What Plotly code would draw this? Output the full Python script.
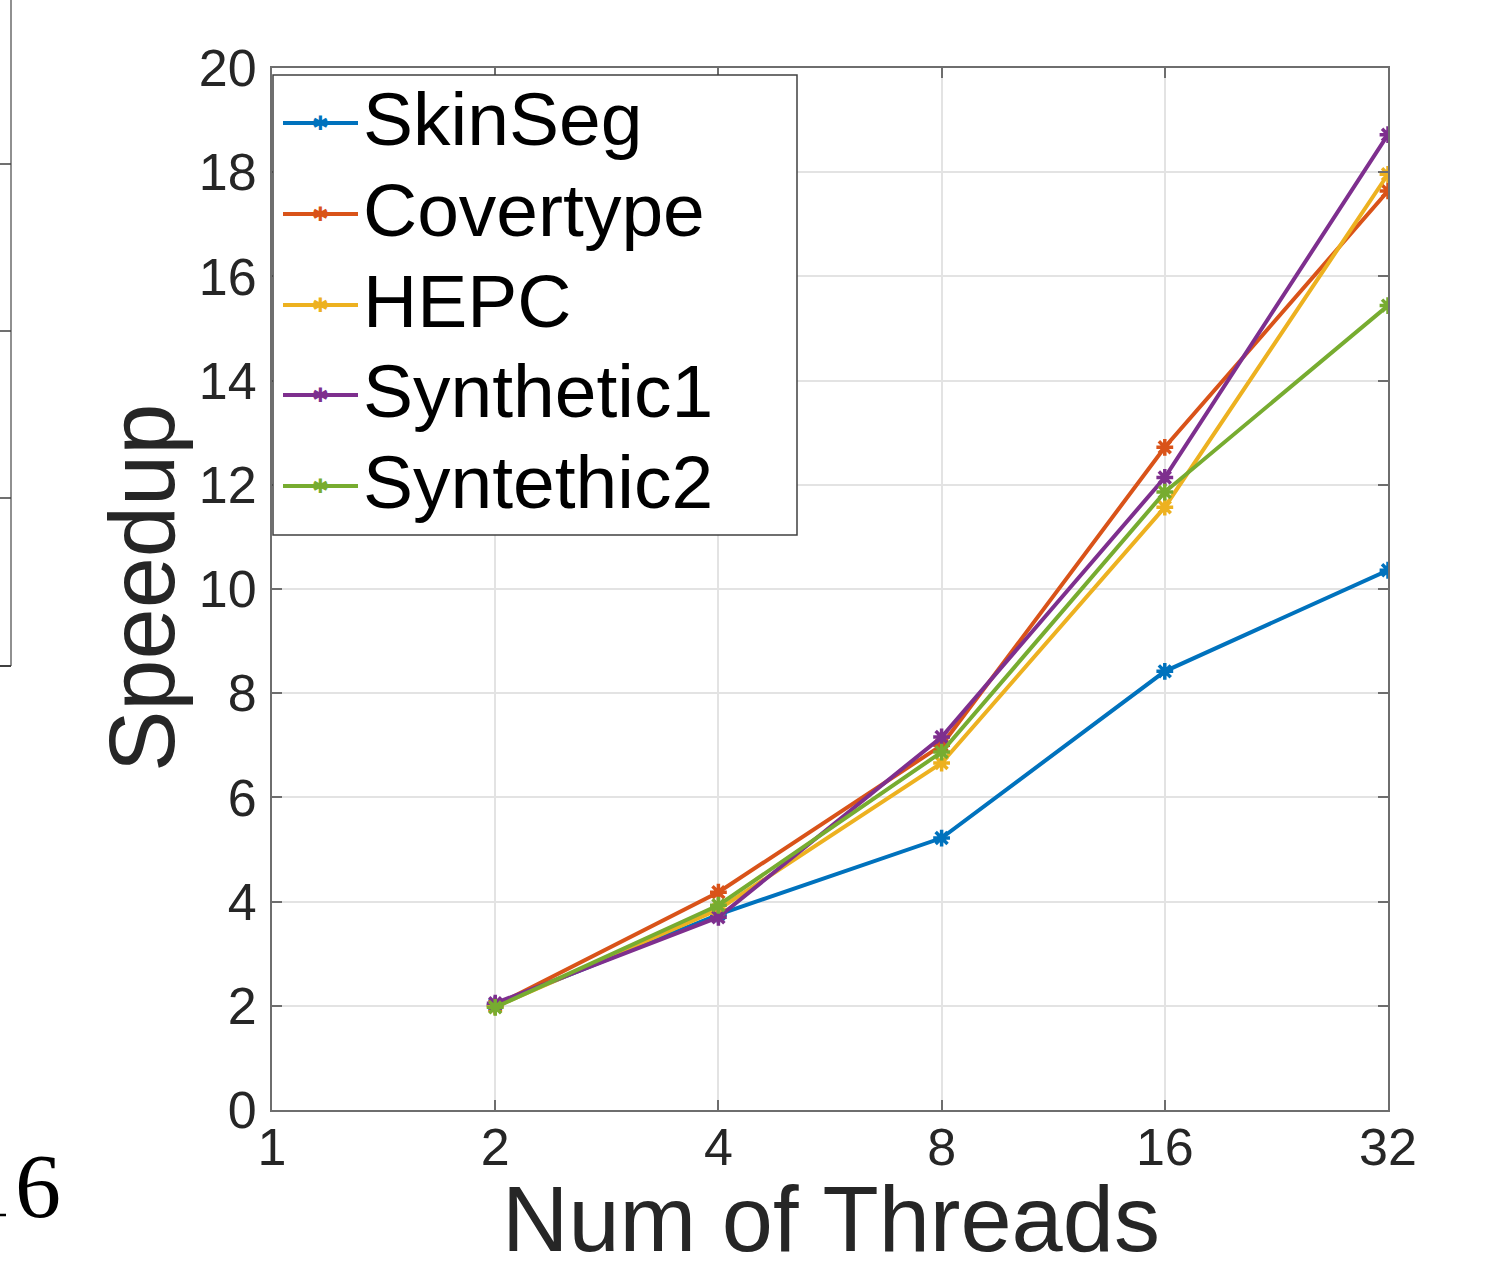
import plotly.graph_objects as go

threads = [2, 4, 8, 16, 32]
series_names = ["SkinSeg", "Covertype", "HEPC", "Synthetic1", "Syntethic2"]
skinseg = [2.02, 3.75, 5.22, 8.42, 10.36]
covertype = [2.0, 4.18, 7.0, 12.72, 17.64]
hepc = [1.98, 3.85, 6.66, 11.57, 17.96]
synthetic1 = [2.05, 3.70, 7.16, 12.14, 18.72]
syntethic2 = [1.97, 3.93, 6.87, 11.86, 15.44]
colors = ["#0072BD", "#D95319", "#EDB120", "#7E2F8E", "#77AC30"]
x_ticks = [1, 2, 4, 8, 16, 32]
y_ticks = [0, 2, 4, 6, 8, 10, 12, 14, 16, 18, 20]

W, H = 1493, 1264
L, R, T, B = 272, 105, 68, 154
PW, PH = W - L - R, H - T - B
FONT = "Liberation Sans, Arial, Helvetica, sans-serif"


def px(xp):
    return (xp - L) / PW


def py(yp):
    return (H - B - yp) / PH


fig = go.Figure()
for name, vals, c in zip(series_names, [skinseg, covertype, hepc, synthetic1, syntethic2], colors):
    fig.add_trace(go.Scatter(
        x=threads, y=vals, name=name, mode="lines+markers",
        line=dict(color=c, width=4),
        marker=dict(symbol="asterisk-open", size=14, color=c, line=dict(color=c, width=3.5)),
        showlegend=False,
    ))

axis_common = dict(
    showline=True, linecolor="#6e6e6e", linewidth=2, mirror="ticks",
    ticks="inside", ticklen=10, tickwidth=1.5, tickcolor="#6e6e6e",
    showgrid=True, gridcolor="#e3e3e3", gridwidth=1.5, zeroline=False,
    tickfont=dict(family=FONT, size=52, color="#262626"),
)

fig.update_xaxes(
    type="log", range=[0, 1.50515], tickvals=x_ticks, ticktext=[str(v) for v in x_ticks],
    ticklabelstandoff=-9,
    **axis_common,
)
fig.update_yaxes(
    range=[0, 20], tickvals=y_ticks,
    ticklabelstandoff=3,
    **axis_common,
)

# axis titles
fig.add_annotation(text="Num of Threads", xref="paper", yref="paper",
                   x=px(831), y=py(1219), xanchor="center", yanchor="middle", showarrow=False,
                   font=dict(family=FONT, size=92, color="#262626"))
fig.add_annotation(text="Speedup", xref="paper", yref="paper",
                   x=px(142), y=py(588), xanchor="center", yanchor="middle", showarrow=False,
                   textangle=-90,
                   font=dict(family=FONT, size=92, color="#262626"))

# manual legend (MATLAB style)
leg_x0, leg_x1, leg_y0, leg_y1 = 273, 797, 75, 535
fig.add_shape(type="rect", xref="paper", yref="paper",
              x0=px(leg_x0), x1=px(leg_x1), y0=py(leg_y1), y1=py(leg_y0),
              line=dict(color="#404040", width=1.5), fillcolor="white", layer="above")
leg_rows = [123, 214, 305, 395, 486]
for name, c, yy in zip(series_names, colors, leg_rows):
    fig.add_shape(type="line", xref="paper", yref="paper",
                  x0=px(283), x1=px(358), y0=py(yy), y1=py(yy),
                  line=dict(color=c, width=4), layer="above")
    fig.add_annotation(text="✱", xref="paper", yref="paper", x=px(320), y=py(yy),
                       xanchor="center", yanchor="middle", showarrow=False,
                       font=dict(family="DejaVu Sans", size=20, color=c))
    fig.add_annotation(text=name, xref="paper", yref="paper", x=px(361), y=py(yy - 4),
                       xanchor="left", yanchor="middle", showarrow=False,
                       font=dict(family=FONT, size=75, color="#000000"))

# cropped neighbouring panel remnants on the left edge
fig.add_shape(type="line", xref="paper", yref="paper",
              x0=px(11), x1=px(11), y0=py(0), y1=py(666),
              line=dict(color="#909090", width=2))
fig.add_shape(type="line", xref="paper", yref="paper",
              x0=px(0), x1=px(11), y0=py(666), y1=py(666),
              line=dict(color="#404040", width=2))
for ty in [164, 331, 498]:
    fig.add_shape(type="line", xref="paper", yref="paper",
                  x0=px(0), x1=px(11), y0=py(ty), y1=py(ty),
                  line=dict(color="#404040", width=1.5))
fig.add_annotation(text="6", xref="paper", yref="paper",
                   x=px(63), y=py(1186),
                   xanchor="right", yanchor="middle", showarrow=False,
                   font=dict(family="Liberation Serif, Times New Roman, serif", size=92, color="#000000"))
fig.add_shape(type="line", xref="paper", yref="paper",
              x0=px(0), x1=px(6), y0=py(1215), y1=py(1215),
              line=dict(color="#000000", width=2.5))

fig.update_layout(
    width=W, height=H,
    margin=dict(l=L, r=R, t=T, b=B),
    paper_bgcolor="white", plot_bgcolor="white",
    showlegend=False,
)

fig.write_html("out.html")
